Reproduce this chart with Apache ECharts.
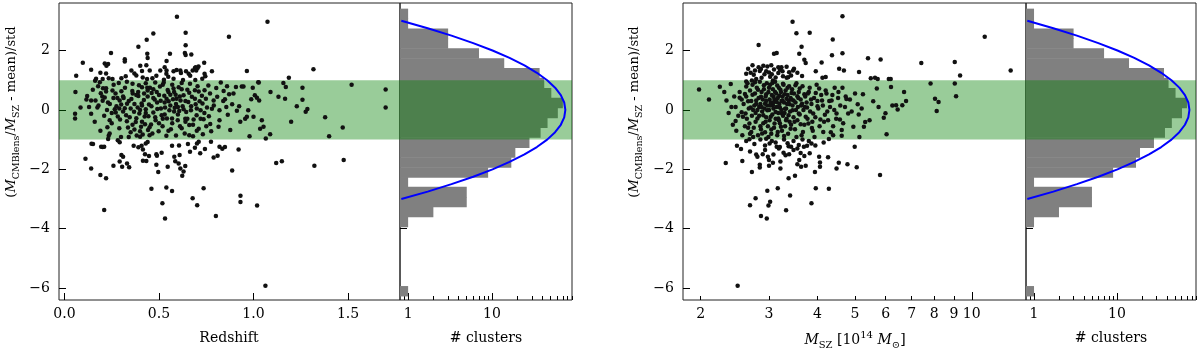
<!DOCTYPE html>
<html>
<head>
<meta charset="utf-8">
<script src="https://cdn.jsdelivr.net/npm/echarts@6/dist/echarts.min.js"></script>
<style>
  html, body { margin: 0; padding: 0; background: #fff; }
  #chart { width: 1200px; height: 354px; }
</style>
</head>
<body>
<div id="chart"></div>
<script>
// scatter values: [redshift, score] and [M_SZ, score]
const redshiftPts = [
  [0.595,3.14],[1.074,2.97],[0.641,2.60],[0.470,2.57],[0.870,2.46],[0.435,2.36],[0.391,2.13],[0.641,2.18],
  [0.246,1.92],[0.438,1.89],[0.440,1.75],[0.558,1.89],[0.637,1.92],[0.641,1.85],[0.671,1.87],[0.097,1.59],
  [0.319,1.71],[0.319,1.63],[0.213,1.56],[0.231,1.55],[0.222,1.49],[0.540,1.65],[0.739,1.59],[0.709,1.46],
  [0.690,1.41],[0.704,1.41],[0.697,1.33],[0.401,1.49],[0.433,1.50],[0.410,1.31],[0.451,1.33],[0.141,1.35],
  [0.190,1.25],[0.062,1.15],[0.965,1.31],[1.317,1.37],[0.780,1.30],[0.741,1.22],[0.745,1.13],[0.507,1.33],
  [0.530,1.44],[0.540,1.33],[0.577,1.30],[0.593,1.34],[0.613,1.33],[0.616,1.24],[0.643,1.30],[0.657,1.22],
  [0.665,1.15],[0.678,1.33],[0.694,1.44],[0.370,1.23],[0.380,1.16],[0.354,1.33],[0.324,1.13],[0.301,1.07],
  [0.254,1.04],[0.234,1.07],[0.202,1.04],[0.167,1.05],[0.162,0.98],[0.220,1.23],[0.465,1.07],[0.437,1.04],
  [0.414,1.09],[0.486,1.15],[0.549,1.12],[0.539,1.22],[0.526,1.02],[0.577,1.05],[0.627,1.01],[0.692,1.01],
  [0.729,1.05],[1.187,1.08],[1.028,0.92],
  [0.058,0.60],[0.056,-0.13],[0.056,-0.29],[0.085,0.08],[0.120,0.47],[0.116,0.35],[0.141,0.32],[0.141,-0.13],
  [0.150,0.68],[0.164,0.32],[0.174,0.08],[0.178,0.80],[0.187,0.93],[0.192,0.56],[0.202,0.31],[0.204,0.73],
  [0.213,0.42],[0.220,0.73],[0.225,0.00],[0.227,-0.58],[0.234,-0.87],[0.239,-0.79],[0.239,-0.35],[0.254,0.65],
  [0.259,0.40],[0.266,0.02],[0.275,0.12],[0.271,-0.09],[0.282,-0.22],[0.287,0.91],[0.292,0.32],[0.294,-0.32],
  [0.301,0.63],[0.299,-0.91],[0.313,0.40],[0.319,0.06],[0.326,-0.18],[0.331,0.21],[0.336,-0.59],[0.340,-0.91],
  [0.345,-0.25],[0.354,0.37],[0.359,0.64],[0.361,0.55],[0.368,-0.06],[0.370,-0.66],[0.377,-0.41],[0.382,-0.86],
  [0.387,0.08],[0.391,0.47],[0.394,0.83],[0.396,-0.12],[0.400,-0.72],[0.405,-0.57],[0.408,0.22],[0.410,0.76],
  [0.414,-0.83],[0.421,0.55],[0.424,-0.22],[0.426,-0.48],[0.430,0.02],[0.438,0.75],[0.442,-0.68],[0.444,-0.21],
  [0.447,0.18],[0.452,0.75],[0.458,-0.49],[0.461,0.57],[0.465,-0.79],[0.470,-0.09],[0.477,0.35],[0.482,-0.35],
  [0.488,0.60],[0.491,0.03],[0.498,-0.72],[0.505,0.79],[0.509,0.31],[0.514,-0.18],[0.519,-0.55],[0.525,0.92],
  [0.528,0.48],[0.532,0.08],[0.539,-0.87],[0.542,-0.29],[0.546,0.67],[0.551,0.29],[0.555,-0.01],[0.560,0.51],
  [0.563,-0.65],[0.569,-0.29],[0.574,0.36],[0.577,0.72],[0.583,0.07],[0.588,0.51],[0.590,-0.86],[0.593,0.38],
  [0.599,-0.35],[0.604,0.76],[0.607,-0.04],[0.611,-0.55],[0.614,0.32],[0.620,0.91],[0.625,0.12],[0.630,0.49],
  [0.636,-0.79],[0.639,-0.30],[0.644,-0.07],[0.650,0.68],[0.655,0.27],[0.660,-0.51],[0.664,0.88],[0.669,-0.01],
  [0.674,0.44],[0.680,-0.89],[0.683,-0.32],[0.690,0.66],[0.694,0.19],[0.699,-0.18],[0.704,0.80],[0.710,-0.63],
  [0.715,0.29],[0.720,-0.01],[0.727,0.48],[0.732,-0.82],[0.736,-0.31],[0.741,0.66],[0.748,0.38],[0.754,0.08],
  [0.761,0.82],[0.764,-0.21],[0.771,-0.47],[0.776,-0.72],[0.780,0.04],[0.789,0.32],[0.803,0.74],[0.808,0.44],
  [0.815,-0.57],[0.820,-0.01],[0.827,0.92],[0.842,0.64],[0.849,0.36],[0.856,0.10],[0.864,-0.16],[0.871,0.53],
  [0.877,-0.68],[0.887,0.19],[0.894,0.55],[0.907,0.77],[0.912,-0.03],[0.924,0.12],[0.930,-0.40],[0.938,0.79],
  [0.947,0.79],[0.956,-0.30],[0.965,-0.23],[0.972,-0.01],[0.979,-0.89],[0.988,0.36],[0.996,0.75],[1.000,-0.23],
  [1.007,0.49],[1.018,0.41],[1.025,0.93],[1.030,0.32],[1.035,-0.63],[1.044,-0.35],[1.053,-0.57],[1.065,-0.96],
  [1.088,-0.82],[1.090,0.60],[1.132,0.44],[1.158,0.91],[1.167,0.38],[1.171,0.77],[1.199,-0.40],[1.229,0.12],
  [1.259,0.75],[1.259,0.34],[1.276,-0.06],[1.285,0.03],[1.379,-0.25],[1.400,-0.89],[1.472,-0.59],[1.519,0.85],
  [1.699,0.69],[1.699,0.08],
  [0.18,0.15],[0.21,-0.20],[0.23,0.25],[0.25,-0.45],[0.26,0.85],[0.28,0.40],[0.29,-0.62],[0.30,0.18],
  [0.31,-0.05],[0.32,0.75],[0.33,-0.38],[0.34,0.30],[0.35,0.05],[0.35,-0.75],[0.36,0.88],[0.37,0.20],
  [0.38,-0.28],[0.39,0.60],[0.40,0.00],[0.41,-0.40],[0.42,0.33],[0.43,0.90],[0.43,-0.10],[0.44,0.45],
  [0.45,-0.58],[0.46,0.12],[0.47,0.70],[0.48,-0.25],[0.49,0.25],[0.50,-0.45],[0.50,0.50],[0.51,0.05],
  [0.52,0.85],[0.53,-0.15],[0.54,0.38],[0.55,-0.70],[0.56,0.15],[0.57,-0.45],[0.58,0.60],[0.59,0.20],
  [0.60,-0.15],[0.61,0.45],[0.62,-0.62],[0.63,0.02],[0.64,0.30],[0.65,-0.30],[0.66,0.58],[0.67,0.12],
  [0.68,-0.50],[0.69,0.38],[0.70,0.05],[0.71,0.62],[0.72,-0.30],[0.73,0.22],[0.75,-0.55],[0.77,0.55],
  [0.79,0.15],[0.82,-0.35],[0.84,0.30],[0.86,0.80],[0.27,0.55],[0.24,0.20],[0.20,0.45],[0.16,-0.40],
  [0.13,0.10],[0.19,-0.70],[0.22,0.62],[0.33,0.95],[0.38,0.50],[0.45,-0.85],[0.52,-0.30],[0.58,-0.05],
  [0.62,0.70],[0.66,-0.85],[0.74,-0.10],[0.41,0.15],[0.47,0.40],[0.55,0.60],[0.36,-0.50],[0.29,0.05],
  [0.53,0.25],[0.60,0.10],[0.48,0.92],[0.40,-0.90],[0.57,0.85],[0.44,0.65],[0.31,0.45],[0.64,-0.40],
  [0.70,-0.70],[0.25,-0.10],
  [0.143,-1.14],[0.151,-1.15],[0.194,-1.24],[0.202,-1.25],[0.210,-1.24],[0.111,-1.64],[0.141,-1.97],[0.190,-2.19],
  [0.220,-2.30],[0.231,-0.98],[0.282,-1.02],[0.292,-1.09],[0.301,-1.52],[0.310,-1.58],[0.292,-1.74],[0.305,-1.91],
  [0.331,-1.80],[0.342,-1.93],[0.259,-1.88],[0.366,-1.21],[0.391,-1.26],[0.408,-1.21],[0.415,-1.33],[0.430,-1.13],
  [0.440,-1.08],[0.426,-1.49],[0.447,-1.55],[0.415,-1.71],[0.433,-1.72],[0.486,-1.49],[0.489,-1.54],[0.514,-1.44],
  [0.486,-1.85],[0.496,-2.09],[0.546,-1.91],[0.569,-1.21],[0.606,-1.20],[0.581,-1.58],[0.609,-1.52],[0.586,-1.73],
  [0.604,-1.80],[0.613,-1.97],[0.639,-1.89],[0.630,-2.07],[0.623,-2.22],[0.653,-1.15],[0.664,-1.41],[0.690,-1.27],
  [0.701,-1.13],[0.710,-1.07],[0.718,-1.46],[0.743,-1.32],[0.775,-1.07],[0.789,-1.60],[0.810,-1.54],[0.820,-1.24],
  [0.835,-1.31],[0.849,-1.25],[0.887,-2.04],[0.921,-1.33],[1.120,-1.79],[1.150,-1.73],[1.322,-1.88],[1.477,-1.69],
  [0.460,-2.65],[0.539,-2.61],[0.569,-2.73],[0.736,-2.64],[0.931,-2.89],[0.931,-3.10],[1.019,-3.22],[0.678,-2.97],
  [0.702,-3.21],[0.518,-3.14],[0.210,-3.37],[0.532,-3.66],[0.801,-3.57],[1.063,-5.92]
];

const massPts = [
  [4.64,3.15],[3.45,2.97],[3.53,2.58],[3.82,2.60],[4.38,2.37],[2.82,2.19],[3.64,2.13],[10.8,2.46],
  [3.09,1.89],[3.14,1.92],[3.59,1.89],[4.36,1.84],[4.64,1.91],[3.70,1.69],[3.73,1.58],[4.10,1.60],
  [5.40,1.74],[5.82,1.70],[7.41,1.58],[9.04,1.61],[9.33,1.16],[12.6,1.33],[4.55,1.39],[4.68,1.33],
  [5.12,1.28],[3.96,1.30],[3.46,1.33],[3.65,1.14],[2.82,1.44],[2.72,1.50],[2.65,1.39],[2.69,1.25],
  [2.62,1.22],[2.76,1.33],[2.84,1.31],[2.90,1.49],[2.97,1.46],[3.04,1.50],[3.09,1.36],[3.17,1.24],
  [3.25,1.30],[3.33,1.45],[3.38,1.27],[3.26,1.13],[3.12,1.09],[3.00,1.26],[2.92,1.20],[2.87,1.08],
  [2.78,1.04],[2.71,0.99],[2.62,0.96],[3.07,0.99],[3.33,1.08],[3.42,1.16],[3.48,1.39],[3.23,1.44],
  [3.17,1.44],[4.12,1.08],[4.20,1.11],[5.49,1.07],[5.63,1.08],[5.72,1.04],[6.11,1.04],[6.18,1.04],
  [2.74,1.18],[2.95,1.30],[3.05,1.20],[3.20,1.35],[3.36,1.10],[2.86,1.38],[3.55,1.25],[3.02,1.12],
  [1.98,0.69],[2.10,0.35],[2.24,0.78],[2.30,0.60],[2.33,0.32],[2.39,0.87],[2.46,0.10],[2.46,-0.37],
  [2.47,-0.70],[2.52,0.41],[2.55,-0.08],[2.57,-0.23],[2.60,0.54],[2.61,-0.12],[2.62,0.79],[2.65,0.29],
  [2.67,-0.46],[2.69,0.08],[2.70,-0.74],[2.72,0.51],[2.73,-0.91],[2.76,0.93],[2.77,-0.10],[2.78,0.32],
  [2.80,-0.29],[2.81,0.68],[2.83,0.10],[2.85,-0.55],[2.86,0.44],[2.88,-0.79],[2.90,-0.18],[2.91,0.83],
  [2.93,0.21],[2.94,-0.40],[2.95,0.53],[2.97,-0.01],[2.99,-0.91],[3.00,0.75],[3.01,0.35],[3.03,-0.23],
  [3.04,-0.66],[3.06,0.91],[3.07,0.16],[3.08,0.44],[3.10,-0.46],[3.11,0.60],[3.12,-0.07],[3.14,0.27],
  [3.15,0.82],[3.16,-0.74],[3.17,-0.29],[3.19,0.48],[3.20,0.08],[3.21,0.68],[3.22,-0.57],[3.24,-0.12],
  [3.25,0.32],[3.26,0.88],[3.28,-0.88],[3.29,0.53],[3.30,0.04],[3.32,-0.35],[3.33,0.38],[3.35,0.75],
  [3.37,-0.18],[3.39,0.19],[3.41,-0.63],[3.43,0.57],[3.45,-0.01],[3.47,0.32],[3.49,-0.40],[3.51,0.83],
  [3.53,-0.91],[3.55,0.46],[3.58,-0.12],[3.60,0.72],[3.62,-0.48],[3.65,0.21],[3.67,-0.74],[3.70,0.53],
  [3.73,-0.23],[3.76,0.08],[3.79,-0.46],[3.82,0.75],[3.85,0.35],[3.87,-0.61],[3.90,-0.12],[3.93,-0.91],
  [3.96,0.57],[4.00,0.12],[4.04,0.72],[4.07,-0.32],[4.11,0.32],[4.14,-0.74],[4.18,-0.16],[4.22,0.55],
  [4.26,-0.35],[4.31,0.10],[4.35,0.32],[4.39,-0.55],[4.43,0.75],[4.48,-0.12],[4.52,0.40],[4.57,-0.32],
  [4.62,-0.68],[4.64,0.75],[4.71,0.10],[4.75,0.37],[4.80,-0.12],[4.85,0.35],[4.95,-0.57],[5.08,0.19],
  [5.11,-0.15],[5.13,-0.91],[5.24,0.53],[5.27,-0.57],[5.31,-0.41],[5.57,0.29],[5.69,0.72],[5.75,0.10],
  [5.93,-0.26],[5.99,-0.11],[6.03,-0.82],[6.19,0.77],[6.24,0.15],[6.38,0.16],[6.44,0.01],[6.62,0.16],
  [6.69,0.60],[6.77,0.30],[7.83,0.89],[8.04,0.38],[8.21,0.27],[8.12,-0.04],[9.04,0.89],[9.11,0.46],
  [2.58,0.20],[2.60,-0.55],[2.62,0.45],[2.63,-0.30],[2.64,0.90],[2.66,0.05],[2.68,0.65],[2.68,-0.80],
  [2.70,0.30],[2.71,-0.20],[2.72,0.85],[2.74,-0.60],[2.75,0.15],[2.76,0.55],[2.77,-0.40],[2.79,0.75],
  [2.80,0.00],[2.81,-0.85],[2.82,0.40],[2.83,-0.20],[2.84,0.95],[2.85,0.20],[2.86,-0.65],[2.87,0.60],
  [2.88,-0.05],[2.89,0.35],[2.90,-0.45],[2.91,0.70],[2.92,0.05],[2.93,-0.75],[2.94,0.45],[2.95,-0.25],
  [2.96,0.90],[2.97,0.15],[2.98,-0.55],[2.99,0.60],[3.00,0.00],[3.01,-0.35],[3.02,0.85],[3.03,0.25],
  [3.04,-0.80],[3.05,0.50],[3.06,-0.15],[3.07,0.70],[3.08,0.05],[3.09,-0.60],[3.10,0.35],[3.11,0.95],
  [3.12,-0.30],[3.13,0.55],[3.14,0.10],[3.15,-0.85],[3.16,0.40],[3.17,-0.10],[3.18,0.75],[3.19,0.20],
  [3.20,-0.45],[3.22,0.60],[3.23,0.00],[3.24,-0.70],[3.25,0.45],[3.26,-0.20],[3.27,0.85],[3.28,0.25],
  [3.30,-0.55],[3.31,0.65],[3.32,0.05],[3.33,-0.30],[3.35,0.50],[3.36,-0.80],[3.37,0.30],[3.38,0.80],
  [3.40,-0.05],[3.41,0.40],[3.42,-0.50],[3.44,0.70],[3.45,0.15],[3.47,-0.25],[3.48,0.55],[3.50,-0.65],
  [3.51,0.25],[3.53,0.90],[3.55,-0.35],[3.56,0.10],[3.58,0.60],[3.60,-0.15],[3.62,0.35],[3.64,-0.85],
  [3.66,0.80],[3.68,0.00],[3.70,-0.50],[3.72,0.45],[3.75,0.25],[3.77,-0.30],[3.80,0.60],[3.83,-0.05],
  [3.86,0.20],[3.89,-0.70],[3.92,0.40],[3.95,-0.25],[3.98,0.85],[4.02,0.05],[4.05,-0.55],[4.09,0.50],
  [4.13,0.15],[4.16,-0.40],[4.20,0.65],[4.24,-0.05],[4.29,0.30],[4.33,-0.75],[4.37,0.50],[4.42,0.00],
  [4.47,-0.30],[4.53,0.60],[4.58,0.15],[4.66,-0.45],[4.73,0.45],[4.90,-0.05],[5.00,0.55],[5.20,0.05],
  [5.45,-0.35],[2.52,0.60],[2.55,0.35],[2.50,-0.20],[2.44,0.45],[2.42,-0.50],[2.40,0.10],[2.36,-0.10],
  [2.56,-0.85],[2.65,-0.60],[2.73,0.00],[2.78,0.20],[2.87,0.10],[2.95,0.30],[3.02,0.15],[3.08,0.25],
  [3.13,0.30],[3.18,-0.35],[3.23,0.30],[3.29,-0.10],[3.34,0.20],[3.39,-0.40],[3.43,0.35],[3.52,0.00],
  [3.57,0.40],[3.63,0.15],[3.71,0.10],[3.78,0.55],[3.88,-0.40],[4.00,0.30],
  [2.32,-1.79],[2.48,-1.21],[2.54,-1.32],[2.56,-1.72],[2.71,-2.09],[2.67,-0.99],[2.78,-1.50],[2.80,-1.58],
  [2.89,-1.49],[2.84,-1.85],[2.84,-1.94],[3.00,-1.69],[3.00,-1.88],[3.07,-1.78],[3.01,-1.13],[3.14,-1.24],
  [3.21,-1.74],[3.21,-1.97],[3.27,-1.44],[3.31,-1.53],[3.37,-1.22],[3.42,-1.24],[3.38,-1.49],[3.50,-2.22],
  [3.37,-2.30],[3.59,-1.69],[3.55,-1.83],[3.63,-1.91],[3.73,-1.88],[3.69,-1.24],[3.76,-1.21],[3.86,-1.13],
  [3.82,-1.46],[3.94,-2.09],[4.04,-1.58],[4.06,-1.77],[4.06,-1.91],[4.26,-1.59],[4.48,-1.97],[4.54,-1.78],
  [4.78,-1.83],[4.99,-1.24],[5.05,-1.93],[5.80,-2.19],[4.39,-0.85],[4.62,-0.87],[4.28,-0.98],
  [2.62,-1.05],[2.75,-1.15],[2.85,-1.00],[2.93,-1.20],[3.05,-1.05],[3.12,-1.10],[3.20,-1.25],[3.28,-1.00],
  [3.35,-1.12],[3.47,-1.05],[3.58,-1.18],[3.66,-1.00],[3.80,-1.05],[3.95,-1.20],[4.15,-1.10],[2.95,-0.97],
  [2.68,-1.40],[2.93,-1.35],[3.08,-1.50],[3.18,-1.30],[3.47,-1.35],[3.62,-1.45],[3.70,-1.55],[2.98,-1.58],
  [3.55,-1.30],
  [3.16,-2.64],[2.97,-2.72],[3.96,-2.64],[4.28,-2.65],[3.40,-2.88],[3.02,-3.09],[2.99,-3.22],[2.68,-3.21],
  [2.77,-2.97],[3.86,-3.14],[3.32,-3.38],[2.86,-3.57],[2.96,-3.66],[2.49,-5.92]
];

// histogram of the score (same for both panels), bins from top to bottom
const histEdges = [3.40, 3.07, 2.73, 2.40, 2.07, 1.73, 1.40, 1.07, 0.73, 0.40, 0.07, -0.27, -0.60, -0.93, -1.27,
  -1.60, -1.94, -2.27, -2.60, -2.94, -3.27, -3.60, -3.94, -4.27, -4.60, -4.94, -5.27, -5.60, -5.94, -6.27];
const histCounts = [1, 1, 3, 3, 7, 14, 37, 42, 51, 70, 61, 46, 38, 28, 19, 17, 9, 1, 5, 5, 2, 1, 0, 0, 0, 0, 0, 0, 1];

// gaussian fit drawn over the histogram
const fitScore = [3, 2.75, 2.5, 2.25, 2, 1.75, 1.5, 1.25, 1, 0.75, 0.5, 0.25, 0,
  -0.25, -0.5, -0.75, -1, -1.25, -1.5, -1.75, -2, -2.25, -2.5, -2.75, -3];
const fitCount = [0.83, 1.71, 3.29, 5.97, 10.15, 16.2, 24.4, 34.3, 45.5, 56.6, 66.2, 72.7, 75,
  72.7, 66.2, 56.6, 45.5, 34.3, 24.4, 16.2, 10.15, 5.97, 3.29, 1.71, 0.83];

const scoreTicks = [-6, -4, -2, 0, 2];
const redshiftTicks = [0, 0.5, 1, 1.5];
const massTicks = [2, 3, 4, 5, 6, 7, 8, 9, 10];
const massMinor = [2, 3, 4, 5, 6, 7, 8, 9];
const countTicks = [1, 10];
const countMinor = [0.9, 2, 3, 4, 5, 6, 7, 8, 9, 20, 30, 40, 50, 60, 70, 80, 90];

const FONT = 'DejaVu Serif';
const INK = '#000';
const BAND = 'rgba(0,128,0,0.4)';

const histData = [];
histCounts.forEach((c, i) => {
  if (c > 0) histData.push([c, histEdges[i], histEdges[i + 1]]);
});
const fitData = fitScore.map((s, i) => [fitCount[i], s]);

const myChart = echarts.init(document.getElementById('chart'));

const minusFmt = v => (v < 0 ? '\u2212' + (-v) : String(v));

function grid(left, width) {
  return { left: left, top: 3, width: width, height: 297, show: true, borderColor: '#222', borderWidth: 1,
    backgroundColor: 'transparent', outerBoundsMode: 'none', containLabel: false };
}

function scoreAxis(gridIndex, showLabel) {
  return {
    type: 'value', gridIndex: gridIndex, min: -6.4, max: 3.6,
    axisLine: { show: false, onZero: false },
    splitLine: { show: false },
    axisTick: { show: true, inside: true, length: 7, customValues: scoreTicks, lineStyle: { color: INK } },
    axisLabel: { show: showLabel, customValues: scoreTicks, formatter: minusFmt, margin: 9,
      fontFamily: FONT, fontSize: 14, color: INK }
  };
}

function countAxes(gridIndex) {
  return [{
    type: 'log', logBase: 10, gridIndex: gridIndex, min: 0.8, max: 90, position: 'bottom',
    axisLine: { show: false, onZero: false }, splitLine: { show: false },
    axisTick: { show: true, inside: true, length: 7, customValues: countTicks, lineStyle: { color: INK } },
    axisLabel: { show: true, customValues: countTicks, formatter: v => String(Math.round(v)), margin: 7,
      fontFamily: FONT, fontSize: 14, color: INK }
  }, {
    type: 'log', logBase: 10, gridIndex: gridIndex, min: 0.8, max: 90, position: 'bottom',
    axisLine: { show: false, onZero: false }, splitLine: { show: false }, axisLabel: { show: false },
    axisTick: { show: true, inside: true, length: 4, customValues: countMinor, lineStyle: { color: INK } }
  }];
}

function richFor(size, subSize) {
  return {
    it: { fontFamily: FONT, fontSize: size, fontStyle: 'italic', fill: INK, color: INK, lineHeight: 20 },
    sub: { fontFamily: FONT, fontSize: subSize, fill: INK, color: INK, verticalAlign: 'bottom', lineHeight: 10 },
    sup: { fontFamily: FONT, fontSize: subSize, fill: INK, color: INK, verticalAlign: 'top', lineHeight: 10 }
  };
}

function label(x, y, text, rotate, size) {
  const fs = size || 14;
  return {
    type: 'text', x: x, y: y, rotation: rotate ? Math.PI / 2 : 0, silent: true,
    style: { text: text, rich: richFor(fs, fs < 14 ? 9.5 : 10), fontFamily: FONT, fontSize: fs, fill: INK,
      lineHeight: 20, align: 'center', verticalAlign: 'middle' }
  };
}

const yName = '({it|M}{sub|CMBlens}/{it|M}{sub|SZ} - mean)/std';

function histSeries(xIndex, yIndex) {
  return [{
    type: 'custom', xAxisIndex: xIndex, yAxisIndex: yIndex, coordinateSystem: 'cartesian2d',
    data: histData, encode: { x: 0, y: [1, 2] }, z: 2, silent: true, clip: true,
    renderItem: function (params, api) {
      const cs = params.coordSys;
      const a = api.coord([api.value(0), api.value(1)]);
      const b = api.coord([api.value(0), api.value(2)]);
      return { type: 'rect', shape: { x: cs.x, y: a[1] - 0.3, width: a[0] - cs.x, height: b[1] - a[1] + 0.6 },
        style: { fill: '#808080' } };
    }
  }, {
    type: 'line', xAxisIndex: xIndex, yAxisIndex: yIndex, data: [], z: 3, silent: true,
    markArea: { silent: true, z: 3, itemStyle: { color: BAND }, data: [[{ yAxis: -1 }, { yAxis: 1 }]] }
  }, {
    type: 'line', xAxisIndex: xIndex, yAxisIndex: yIndex, data: fitData, z: 4, silent: true,
    showSymbol: false, clip: true, lineStyle: { color: '#0000ff', width: 2 }
  }];
}

function scatterSeries(xIndex, yIndex, pts) {
  return [{
    type: 'line', xAxisIndex: xIndex, yAxisIndex: yIndex, data: [], z: 1, silent: true,
    markArea: { silent: true, z: 1, itemStyle: { color: BAND }, data: [[{ yAxis: -1 }, { yAxis: 1 }]] }
  }, {
    type: 'scatter', xAxisIndex: xIndex, yAxisIndex: yIndex, data: pts, z: 2, silent: true,
    symbolSize: 4.5, itemStyle: { color: '#111', opacity: 1 }
  }];
}

const option = {
  animation: false,
  grid: [grid(59, 341), grid(400, 172), grid(683, 343), grid(1026, 170)],
  xAxis: [
    {
      type: 'value', gridIndex: 0, min: -0.029, max: 1.775,
      axisLine: { show: false, onZero: false }, splitLine: { show: false },
      axisTick: { show: true, inside: true, length: 7, customValues: redshiftTicks, lineStyle: { color: INK } },
      axisLabel: { show: true, customValues: redshiftTicks, formatter: v => v.toFixed(1), margin: 7,
        fontFamily: FONT, fontSize: 14, color: INK }
    },
    ...countAxes(1),
    {
      type: 'log', logBase: 10, gridIndex: 2, min: 1.8, max: 13.8, position: 'bottom',
      axisLine: { show: false, onZero: false }, splitLine: { show: false },
      axisTick: { show: true, inside: true, length: 4, customValues: massMinor, lineStyle: { color: INK } },
      axisLabel: { show: true, customValues: massTicks, formatter: v => String(Math.round(v)), margin: 7,
        fontFamily: FONT, fontSize: 14, color: INK }
    },
    {
      type: 'log', logBase: 10, gridIndex: 2, min: 1.8, max: 13.8, position: 'bottom',
      axisLine: { show: false, onZero: false }, splitLine: { show: false }, axisLabel: { show: false },
      axisTick: { show: true, inside: true, length: 8, customValues: [10], lineStyle: { color: INK } }
    },
    ...countAxes(3)
  ],
  yAxis: [scoreAxis(0, true), scoreAxis(1, false), scoreAxis(2, true), scoreAxis(3, false)],
  series: [
    ...scatterSeries(0, 0, redshiftPts),
    ...histSeries(1, 1),
    ...scatterSeries(3, 2, massPts),
    ...histSeries(5, 3)
  ],
  graphic: [
    label(12, 112, yName, true, 13),
    label(635, 112, yName, true, 13),
    label(229, 338, 'Redshift'),
    label(486, 338, '# clusters'),
    label(855, 340, '{it|M}{sub|SZ} [10{sup|14} {it|M}{sub|\u2299}]'),
    label(1111, 338, '# clusters')
  ]
};

myChart.setOption(option);
</script>
</body>
</html>
